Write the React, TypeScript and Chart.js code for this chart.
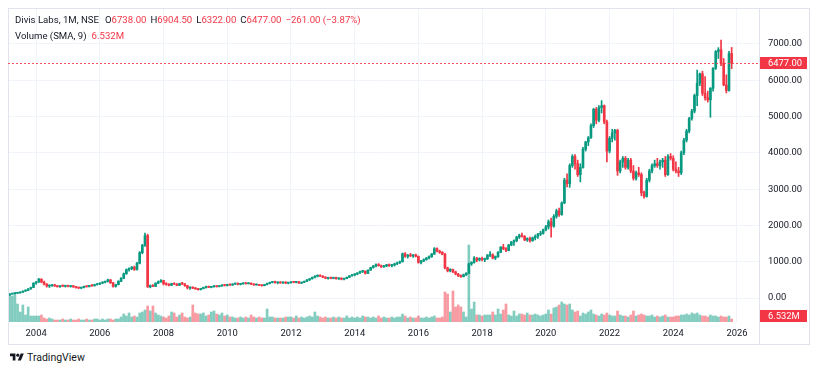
import React, { useEffect, useRef } from 'react';
import { Chart, registerables } from 'chart.js';

Chart.register(...registerables);

// ---------------- data (monthly, Mar 2003 .. Nov 2025) ----------------
const symbolTitle = 'Divis Labs, 1M, NSE';
const volumeTitle = 'Volume (SMA, 9)';
const volumeSma = 6.532; // millions
const yearTicks = ['2004', '2006', '2008', '2010', '2012', '2014', '2016', '2018', '2020', '2022', '2024', '2026'];
const priceTicks = [0, 1000, 2000, 3000, 4000, 5000, 6000, 7000];

const opens = [
  80, 110, 120, 132, 140, 160, 190, 210, 250, 290,
  410, 440, 520, 440, 380, 330, 340, 355, 330, 310,
  335, 325, 340, 315, 335, 305, 285, 275, 290, 320,
  310, 345, 335, 370, 385, 410, 435, 455, 500, 420,
  320, 370, 460, 545, 670, 780, 810, 850, 790, 960,
  1250, 1450, 1720, 310, 330, 320, 410, 450, 480, 390,
  380, 350, 395, 380, 350, 400, 390, 340, 280, 290,
  270, 250, 230, 260, 290, 310, 295, 310, 325, 315,
  335, 350, 345, 370, 355, 385, 400, 375, 390, 410,
  395, 405, 380, 360, 375, 350, 340, 370, 400, 430,
  450, 420, 430, 415, 440, 410, 420, 440, 430, 445,
  410, 430, 460, 500, 530, 570, 600, 620, 600, 570,
  545, 560, 540, 565, 530, 545, 520, 535, 570, 610,
  640, 660, 690, 730, 740, 680, 770, 840, 880, 920,
  890, 860, 880, 920, 890, 910, 940, 970, 1000, 1220,
  1150, 1180, 1160, 1190, 1150, 980, 1020, 1060, 1100, 1140,
  1210, 1360, 1290, 1260, 1210, 830, 750, 790, 720, 660,
  610, 590, 640, 680, 940, 980, 1100, 1050, 1090, 1060,
  1080, 1180, 1190, 1100, 1140, 1260, 1400, 1360, 1310, 1460,
  1540, 1580, 1680, 1730, 1700, 1600, 1640, 1580, 1660, 1700,
  1760, 1780, 1880, 1960, 2100, 1980, 2250, 2400, 2300, 2620,
  3250, 3150, 3650, 3900, 3700, 3400, 3600, 4100, 4300, 4420,
  4750, 5200, 4900, 5250, 5300, 4850, 4050, 4400, 4550, 4620,
  3500, 3750, 3850, 3600, 3800, 3500, 3300, 3450, 3400, 2900,
  2800, 3250, 3500, 3650, 3700, 3650, 3750, 3800, 3400, 3900,
  3850, 3550, 3500, 3450, 4000, 4350, 4600, 4950, 5150, 5580,
  5920, 6180, 5640, 5520, 5460, 5780, 6330, 6790, 6840, 6470,
  5870, 5720, 6738,
];

const highs = [
  120, 128, 140, 150, 170, 200, 225, 260, 300, 420,
  460, 540, 530, 470, 400, 360, 370, 380, 350, 345,
  360, 350, 355, 345, 350, 320, 300, 295, 330, 340,
  350, 370, 380, 400, 420, 450, 470, 520, 510, 430,
  380, 480, 560, 690, 800, 830, 870, 880, 980, 1280,
  1480, 1790, 1760, 360, 370, 420, 470, 510, 490, 420,
  400, 410, 420, 400, 410, 430, 400, 350, 300, 310,
  290, 270, 270, 300, 330, 330, 320, 340, 340, 345,
  360, 370, 380, 390, 395, 410, 415, 400, 420, 425,
  420, 415, 395, 385, 380, 365, 380, 410, 440, 460,
  470, 440, 450, 445, 450, 430, 450, 460, 455, 460,
  440, 470, 510, 540, 580, 620, 640, 640, 620, 590,
  570, 580, 575, 580, 555, 560, 545, 580, 620, 650,
  670, 700, 740, 760, 750, 780, 850, 900, 940, 950,
  910, 900, 930, 940, 930, 960, 990, 1020, 1240, 1250,
  1200, 1230, 1200, 1210, 1160, 1040, 1080, 1120, 1160, 1230,
  1390, 1380, 1320, 1280, 1230, 850, 810, 800, 740, 680,
  640, 660, 700, 960, 1000, 1140, 1120, 1110, 1130, 1100,
  1200, 1280, 1220, 1160, 1280, 1420, 1480, 1390, 1480, 1560,
  1600, 1700, 1760, 1790, 1720, 1660, 1680, 1680, 1740, 1780,
  1840, 1900, 2000, 2150, 2200, 2300, 2450, 2480, 2650, 3300,
  3420, 3700, 3950, 3950, 3800, 3700, 4150, 4320, 4450, 4800,
  5230, 5250, 5300, 5440, 5320, 4900, 4450, 4650, 4650, 4650,
  3800, 3900, 3900, 3850, 3850, 3650, 3500, 3600, 3450, 2950,
  3300, 3550, 3700, 3800, 3850, 3800, 3850, 3900, 3950, 3980,
  3920, 3750, 3600, 4050, 4400, 4650, 4980, 5200, 5620, 6280,
  6200, 6250, 6100, 5700, 5800, 6350, 6820, 6900, 7110, 6600,
  6150, 6800, 6904.5,
];

const lows = [
  75, 100, 112, 125, 135, 155, 180, 200, 240, 285,
  380, 430, 420, 360, 300, 290, 320, 320, 300, 295,
  315, 300, 305, 300, 295, 270, 260, 255, 280, 300,
  305, 320, 330, 355, 370, 395, 415, 440, 400, 300,
  300, 360, 450, 530, 650, 740, 780, 760, 770, 940,
  1220, 1420, 290, 280, 310, 315, 395, 430, 360, 350,
  330, 340, 370, 340, 340, 370, 320, 250, 240, 260,
  240, 215, 220, 250, 270, 285, 280, 300, 300, 305,
  320, 330, 330, 345, 350, 370, 360, 360, 380, 380,
  385, 370, 350, 350, 340, 325, 335, 360, 390, 415,
  410, 390, 405, 405, 400, 390, 410, 420, 415, 400,
  395, 425, 450, 480, 520, 555, 580, 590, 560, 530,
  520, 530, 530, 520, 510, 500, 500, 530, 560, 600,
  610, 640, 680, 700, 660, 670, 760, 820, 860, 880,
  840, 840, 860, 870, 860, 880, 920, 950, 990, 1120,
  1100, 1140, 1120, 1130, 960, 940, 1000, 1040, 1080, 1120,
  1200, 1270, 1230, 1190, 800, 720, 720, 700, 640, 590,
  570, 580, 620, 670, 900, 960, 1000, 1020, 1020, 1000,
  1060, 1140, 1080, 1060, 1120, 1250, 1330, 1280, 1300, 1440,
  1450, 1550, 1640, 1680, 1580, 1560, 1540, 1560, 1600, 1640,
  1720, 1760, 1850, 1900, 1680, 1950, 2200, 2250, 2280, 2600,
  3060, 3050, 3600, 3550, 3350, 3200, 3580, 4050, 4200, 4400,
  4700, 4800, 4850, 5100, 4800, 3750, 4000, 4300, 4350, 3380,
  3450, 3600, 3550, 3550, 3450, 3250, 3250, 3350, 2820, 2750,
  2780, 3200, 3450, 3600, 3600, 3550, 3600, 3350, 3380, 3800,
  3500, 3450, 3350, 3400, 3950, 4300, 4550, 4900, 5100, 5300,
  5850, 5580, 5450, 5400, 4980, 5700, 6300, 6600, 6400, 5850,
  5650, 5700, 6322,
];

const closes = [
  110, 120, 132, 140, 160, 190, 210, 250, 290, 410,
  440, 520, 440, 380, 330, 340, 355, 330, 310, 335,
  325, 340, 315, 335, 305, 285, 275, 290, 320, 310,
  345, 335, 370, 385, 410, 435, 455, 500, 420, 320,
  370, 460, 545, 670, 780, 810, 850, 790, 960, 1250,
  1450, 1720, 310, 330, 320, 410, 450, 480, 390, 380,
  350, 395, 380, 350, 400, 390, 340, 280, 290, 270,
  250, 230, 260, 290, 310, 295, 310, 325, 315, 335,
  350, 345, 370, 355, 385, 400, 375, 390, 410, 395,
  405, 380, 360, 375, 350, 340, 370, 400, 430, 450,
  420, 430, 415, 440, 410, 420, 440, 430, 445, 410,
  430, 460, 500, 530, 570, 600, 620, 600, 570, 545,
  560, 540, 565, 530, 545, 520, 535, 570, 610, 640,
  660, 690, 730, 740, 680, 770, 840, 880, 920, 890,
  860, 880, 920, 890, 910, 940, 970, 1000, 1220, 1150,
  1180, 1160, 1190, 1150, 980, 1020, 1060, 1100, 1140, 1210,
  1360, 1290, 1260, 1210, 830, 750, 790, 720, 660, 610,
  590, 640, 680, 940, 980, 1100, 1050, 1090, 1060, 1080,
  1180, 1190, 1100, 1140, 1260, 1400, 1360, 1310, 1460, 1540,
  1580, 1680, 1730, 1700, 1600, 1640, 1580, 1660, 1700, 1760,
  1780, 1880, 1960, 2100, 1980, 2250, 2400, 2300, 2620, 3250,
  3150, 3650, 3900, 3700, 3400, 3600, 4100, 4300, 4420, 4750,
  5200, 4900, 5250, 5300, 4850, 4050, 4400, 4550, 4620, 3500,
  3750, 3850, 3600, 3800, 3500, 3300, 3450, 3400, 2900, 2800,
  3250, 3500, 3650, 3700, 3650, 3750, 3800, 3400, 3900, 3850,
  3550, 3500, 3450, 4000, 4350, 4600, 4950, 5150, 5580, 5920,
  6180, 5640, 5520, 5460, 5780, 6330, 6790, 6840, 6470, 5870,
  5720, 6738, 6477,
];

// volume in millions
const volumes = [
  28, 26, 29, 18, 10, 17, 7, 15, 6, 6,
  6, 6, 7, 4, 3, 4, 3, 2, 2, 2,
  3, 2, 2, 3, 2, 2, 3, 2, 2, 3,
  2, 2, 3, 3, 2, 3, 2, 3, 3, 2,
  3, 3, 5, 8, 6, 9, 5, 6, 5, 9,
  10, 12, 16, 11, 16, 9, 7, 6, 5, 4,
  6, 10, 9, 5, 7, 9, 5, 4, 5, 17,
  9, 8, 8, 9, 6, 7, 10, 11, 8, 7,
  9, 6, 7, 5, 5, 4, 4, 5, 4, 5,
  4, 7, 5, 4, 5, 4, 4, 13, 5, 5,
  4, 4, 4, 4, 5, 5, 5, 4, 6, 4,
  5, 4, 5, 6, 5, 10, 6, 5, 4, 5,
  4, 4, 5, 4, 5, 4, 4, 6, 4, 5,
  4, 5, 4, 6, 5, 5, 4, 5, 4, 6,
  4, 5, 4, 4, 5, 4, 5, 5, 8, 6,
  4, 5, 4, 4, 6, 4, 4, 5, 4, 5,
  6, 4, 4, 5, 30, 28, 10, 31, 15, 17,
  15, 10, 5, 77, 13, 20, 7, 7, 6, 7,
  7, 7, 10, 7, 13, 8, 12, 18, 7, 6,
  11, 6, 8, 8, 7, 9, 7, 7, 8, 7,
  6, 7, 8, 12, 8, 14, 15, 17, 20, 18,
  17, 18, 12, 10, 11, 6, 9, 8, 10, 12,
  8, 7, 6, 8, 7, 9, 7, 6, 6, 11,
  7, 6, 6, 5, 7, 11, 6, 7, 8, 7,
  6, 6, 7, 5, 6, 5, 6, 7, 5, 5,
  5, 6, 6, 7, 7, 8, 7, 9, 8, 9,
  7, 6, 6, 5, 7, 6, 6, 5, 6, 5,
  5, 6, 3,
];

// ---------------- styling ----------------
const UP = '#089981';
const DOWN = '#f23645';
const UP_VOL = 'rgba(8,153,129,0.5)';
const DOWN_VOL = 'rgba(242,54,69,0.5)';
const TEXT = '#131722';
const GRID = '#f0f3fa';
const BORDER = '#e0e3eb';
const FONT = 'Roboto, "Noto Sans", Arial, sans-serif';

const W = 802;
const H = 337;
const AXIS_W = 51;
const TIME_H = 23;
const FIRST_TICK = 10; // Jan 2004 is the 11th month of the series
const TICK_STEP = 24;

const fmt = (v: number) => v.toFixed(2);

export default function App() {
  const ref = useRef<HTMLCanvasElement | null>(null);
  const n = closes.length;
  const last = n - 1;
  const chg = closes[last] - closes[last - 1];
  const pct = (chg / closes[last - 1]) * 100;
  const lastUp = closes[last] >= opens[last];
  const valColor = lastUp ? UP : DOWN;
  const sign = chg < 0 ? '\u2212' : '+';

  useEffect(() => {
    const idx = Array.from({ length: n }, (_, i) => i);
    const isUp = idx.map((i) => closes[i] >= opens[i]);

    const overlay = {
      id: 'overlay',
      afterDraw(chart: any) {
        const { ctx, chartArea: a, scales } = chart;
        ctx.save();
        // frame + separators
        ctx.strokeStyle = BORDER;
        ctx.lineWidth = 1;
        ctx.strokeRect(0.5, 0.5, W - 1, H - 1);
        ctx.beginPath();
        ctx.moveTo(Math.round(a.right) + 0.5, 0);
        ctx.lineTo(Math.round(a.right) + 0.5, H);
        ctx.stroke();
        // last price dotted line
        const py = Math.round(scales.y.getPixelForValue(closes[last]));
        ctx.strokeStyle = 'rgba(242,54,69,0.85)';
        ctx.setLineDash([2, 2]);
        ctx.beginPath();
        ctx.moveTo(a.left, py + 0.5);
        ctx.lineTo(a.right, py + 0.5);
        ctx.stroke();
        ctx.setLineDash([]);
        // price label
        ctx.font = `9.4px ${FONT}`;
        ctx.textBaseline = 'middle';
        ctx.textAlign = 'left';
        ctx.fillStyle = valColor;
        ctx.fillRect(a.right + 1, py - 6, 47, 12);
        ctx.fillStyle = '#ffffff';
        ctx.fillText(fmt(closes[last]), a.right + 9, py + 0.5);
        // volume SMA label
        const vy = Math.round(scales.yv.getPixelForValue(volumeSma));
        ctx.fillStyle = DOWN;
        ctx.fillRect(a.right + 1, vy - 5, 47, 12);
        ctx.fillStyle = '#ffffff';
        ctx.fillText(volumeSma.toFixed(3) + 'M', a.right + 9, vy + 1.5);
        ctx.restore();
      },
    };

    const chart = new Chart(ref.current as HTMLCanvasElement, {
      type: 'bar',
      data: {
        datasets: [
          {
            data: idx.map((i) => ({ x: i, y: volumes[i] })),
            backgroundColor: idx.map((i) => (isUp[i] ? UP_VOL : DOWN_VOL)),
            barThickness: 2,
            grouped: false,
            yAxisID: 'yv',
            order: 3,
          } as any,
          {
            data: idx.map((i) => ({ x: i, y: [lows[i], highs[i]] })),
            backgroundColor: idx.map((i) => (isUp[i] ? UP : DOWN)),
            barThickness: 1,
            grouped: false,
            yAxisID: 'y',
            order: 2,
          } as any,
          {
            data: idx.map((i) => ({
              x: i,
              y: [Math.min(opens[i], closes[i]), Math.max(opens[i], closes[i])],
            })),
            backgroundColor: idx.map((i) => (isUp[i] ? UP : DOWN)),
            barThickness: 2,
            minBarLength: 1,
            grouped: false,
            yAxisID: 'y',
            order: 1,
          } as any,
        ],
      },
      options: {
        animation: false,
        responsive: false,
        maintainAspectRatio: false,
        events: [],
        layout: { padding: 0 },
        plugins: { legend: { display: false }, tooltip: { enabled: false } },
        scales: {
          x: {
            type: 'linear',
            min: -0.6,
            max: 282.3,
            offset: false,
            grid: { color: GRID, drawTicks: false, offset: false },
            border: { display: false },
            afterBuildTicks: (s: any) => {
              s.ticks = yearTicks.map((_, k) => ({ value: FIRST_TICK + k * TICK_STEP }));
            },
            afterFit: (s: any) => {
              s.height = TIME_H;
              s.paddingLeft = 0;
              s.paddingRight = 0;
            },
            ticks: {
              autoSkip: false,
              maxRotation: 0,
              padding: 6,
              color: TEXT,
              font: { family: FONT, size: 9.4 },
              callback: (v: any) => yearTicks[Math.round((Number(v) - FIRST_TICK) / TICK_STEP)] ?? '',
            },
          },
          y: {
            type: 'linear',
            position: 'right',
            min: -661,
            max: 7992,
            grid: { color: GRID, drawTicks: false },
            border: { display: true, color: BORDER },
            afterBuildTicks: (s: any) => {
              s.ticks = priceTicks.map((v) => ({ value: v }));
            },
            afterFit: (s: any) => {
              s.width = AXIS_W;
              s.paddingTop = 0;
              s.paddingBottom = 0;
            },
            ticks: {
              padding: 9,
              color: TEXT,
              font: { family: FONT, size: 9.4 },
              callback: (v: any) => fmt(Number(v)),
            },
          },
          yv: {
            type: 'linear',
            display: false,
            min: 0,
            max: 314,
          },
        },
      } as any,
      plugins: [overlay],
    });
    return () => chart.destroy();
  }, []);

  const red = { color: valColor };
  return (
    <div style={{ fontFamily: FONT }}>
      <div style={{ position: 'relative', width: W, height: H }}>
        <canvas ref={ref} width={W} height={H} style={{ display: 'block' }} />
        <div
          style={{
            position: 'absolute',
            left: 7,
            top: 4,
            fontSize: 9.6,
            lineHeight: '16px',
            color: TEXT,
            whiteSpace: 'nowrap',
          }}
        >
          <div>
            <span>{symbolTitle}</span>
            <span style={{ marginLeft: 6 }}>O</span>
            <span style={red}>{fmt(opens[last])}</span>
            <span style={{ marginLeft: 4 }}>H</span>
            <span style={red}>{fmt(highs[last])}</span>
            <span style={{ marginLeft: 4 }}>L</span>
            <span style={red}>{fmt(lows[last])}</span>
            <span style={{ marginLeft: 4 }}>C</span>
            <span style={red}>{fmt(closes[last])}</span>
            <span style={{ ...red, marginLeft: 4 }}>
              {sign}
              {fmt(Math.abs(chg))} ({sign}
              {fmt(Math.abs(pct))}%)
            </span>
          </div>
          <div>
            <span>{volumeTitle}</span>
            <span style={{ color: DOWN, marginLeft: 5 }}>{volumeSma.toFixed(3)}M</span>
          </div>
        </div>
      </div>
      <div style={{ display: 'flex', alignItems: 'center', height: 12, marginTop: 6, marginLeft: 2 }}>
        <svg width="14" height="11" viewBox="0 0 36 28" style={{ display: 'block' }}>
          <path d="M14 22H7V11H0V4h14v18z" fill={TEXT} />
          <circle cx="20" cy="8" r="4" fill={TEXT} />
          <path d="M28 22h-8l7.5-18h8L28 22z" fill={TEXT} />
        </svg>
        <span style={{ marginLeft: 3, fontSize: 10.5, color: TEXT }}>TradingView</span>
      </div>
    </div>
  );
}
